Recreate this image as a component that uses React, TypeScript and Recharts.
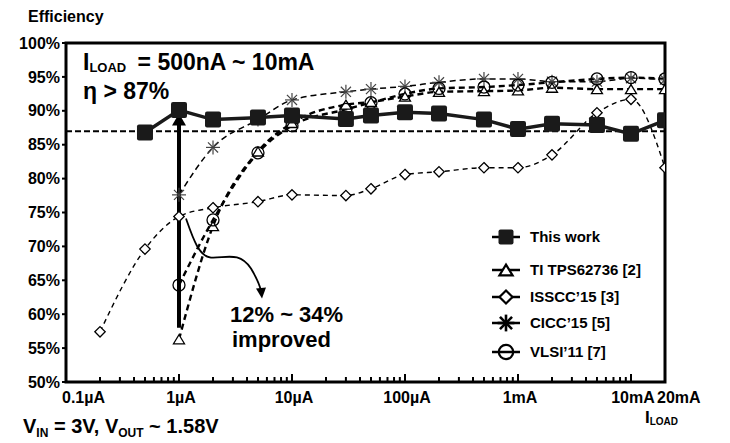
import { LineChart, Line, XAxis, YAxis, ReferenceLine, ReferenceDot, ReferenceArea } from 'recharts';

const FONT = '"Liberation Sans", Arial, Helvetica, sans-serif';

// load current (A) and efficiency (%)
const thisWorkCurrent = [0.5e-6, 1e-6, 2e-6, 5e-6, 1e-5, 3e-5, 5e-5, 1e-4, 2e-4, 5e-4, 1e-3, 2e-3, 5e-3, 1e-2, 2e-2];
const thisWorkEff = [86.8, 90.1, 88.7, 89.0, 89.3, 88.8, 89.3, 89.8, 89.6, 88.7, 87.3, 88.1, 87.9, 86.6, 88.6];

const refCurrent = [1e-6, 2e-6, 5e-6, 1e-5, 3e-5, 5e-5, 1e-4, 2e-4, 5e-4, 1e-3, 2e-3, 5e-3, 1e-2, 2e-2];
const tiEff = [56.3, 73.0, 84.0, 88.2, 90.9, 91.3, 92.1, 92.8, 92.9, 93.0, 93.4, 93.2, 93.2, 93.2];
const vlsiEff = [64.3, 73.9, 83.8, 87.8, 90.2, 91.2, 92.5, 93.3, 93.5, 93.8, 94.2, 94.7, 94.9, 94.7];
const ciccEff = [77.6, 84.6, 88.7, 91.6, 92.8, 93.2, 93.6, 94.2, 94.7, 94.7, 94.3, 94.3, 94.8, 94.6];

const isscCurrent = [2e-7, 5e-7, 1e-6, 2e-6, 5e-6, 1e-5, 3e-5, 5e-5, 1e-4, 2e-4, 5e-4, 1e-3, 2e-3, 5e-3, 1e-2, 2e-2];
const isscEff = [57.4, 69.6, 74.4, 75.7, 76.6, 77.6, 77.5, 78.5, 80.6, 81.0, 81.6, 81.6, 83.5, 89.7, 91.7, 81.6];

const majorTicks = [1e-7, 1e-6, 1e-5, 1e-4, 1e-3, 1e-2, 2e-2];
const majorLabels = ['0.1µA', '1µA', '10µA', '100µA', '1mA', '10mA', '20mA'];
const yTicks = [50, 55, 60, 65, 70, 75, 80, 85, 90, 95, 100];

const minorTicks: number[] = [];
for (let d = -7; d <= -3; d++) {
  for (let m = 2; m <= 9; m++) minorTicks.push(m * Math.pow(10, d));
}
const allTicks = [...majorTicks, ...minorTicks];

const toPoints = (xs: number[], ys: number[]) => xs.map((x, i) => ({ x, y: ys[i] }));

const legendItems = [
  { name: 'This work', marker: 'square' },
  { name: 'TI TPS62736 [2]', marker: 'triangle' },
  { name: 'ISSCC’15 [3]', marker: 'diamond' },
  { name: 'CICC’15 [5]', marker: 'star' },
  { name: 'VLSI’11 [7]', marker: 'circle' },
];
const legendRows = [237, 270, 297, 323, 352];

function Marker({ kind, cx, cy, big }: { kind: string; cx: number; cy: number; big?: boolean }) {
  const k = big ? 1.2 : 1;
  const sw = big ? 2.2 : 1.3;
  if (kind === 'square') {
    const s = big ? 15 : 16;
    return <rect x={cx - s / 2} y={cy - s / 2} width={s} height={s} rx={2} fill="#1a1a1a" />;
  }
  if (kind === 'triangle') {
    const w = 5.5 * k;
    const h = 9 * k;
    return <path d={`M${cx},${cy - h / 2} L${cx + w},${cy + h / 2} L${cx - w},${cy + h / 2} Z`} fill="#fff" stroke="#000" strokeWidth={sw} />;
  }
  if (kind === 'diamond') {
    const r = big ? 6.5 : 5.2;
    return <path d={`M${cx},${cy - r} L${cx + r},${cy} L${cx},${cy + r} L${cx - r},${cy} Z`} fill="#fff" stroke="#000" strokeWidth={sw} />;
  }
  if (kind === 'star') {
    const r = 7 * k;
    const d = r * 0.72;
    return (
      <g stroke={big ? '#000' : '#444'} strokeWidth={big ? 2.6 : 1.2}>
        <line x1={cx} y1={cy - r} x2={cx} y2={cy + r} />
        <line x1={cx - r} y1={cy} x2={cx + r} y2={cy} />
        <line x1={cx - d} y1={cy - d} x2={cx + d} y2={cy + d} />
        <line x1={cx - d} y1={cy + d} x2={cx + d} y2={cy - d} />
      </g>
    );
  }
  return <circle cx={cx} cy={cy} r={6 * k} fill="none" stroke="#000" strokeWidth={sw} />;
}

const dotOf = (kind: string) => (p: any) => <Marker key={`${kind}-${p.index}`} kind={kind} cx={p.cx} cy={p.cy} />;

function XTick(props: any) {
  const { x, y, payload } = props;
  const idx = majorTicks.findIndex((t) => Math.abs(t - payload.value) / t < 1e-6);
  const major = idx >= 0;
  const label = major ? majorLabels[idx] : null;
  let anchor = 'middle';
  let lx = x + 2;
  if (idx === 0) { anchor = 'start'; lx = x - 4; }
  if (idx === majorTicks.length - 1) { anchor = 'start'; lx = x - 8; }
  return (
    <g>
      <line x1={x} x2={x} y1={y} y2={y - (major ? 8 : 5)} stroke="#000" strokeWidth={2} />
      {label && (
        <text x={lx} y={y + 21} textAnchor={anchor} fontFamily={FONT} fontWeight="bold" fontSize={16} fill="#000">
          {label}
        </text>
      )}
    </g>
  );
}

const arrowHead = (p: any) => (
  <path d={`M${p.cx},${p.cy} L${p.cx + 7},${p.cy + 12} L${p.cx - 7},${p.cy + 12} Z`} fill="#000" />
);

const curvedArrow = (p: any) => {
  const { cx, cy } = p;
  return (
    <g>
      <path
        d={`M${cx + 7},${cy + 2} C${cx + 14},${cy + 22} ${cx + 20},${cy + 40} ${cx + 32},${cy + 41} C${cx + 46},${cy + 42} ${cx + 60},${cy + 34} ${cx + 72},${cy + 52} C${cx + 78},${cy + 62} ${cx + 81},${cy + 70} ${cx + 82},${cy + 74}`}
        fill="none"
        stroke="#000"
        strokeWidth={1.8}
      />
      <path d={`M${cx + 83},${cy + 82} L${cx + 77},${cy + 72} L${cx + 87},${cy + 71} Z`} fill="#000" />
    </g>
  );
};

export default function App() {
  return (
    <div style={{ position: 'absolute', left: 0, top: 0, width: 730, height: 443, background: '#fff' }}>
      <LineChart width={730} height={443} margin={{ top: 43, right: 65, bottom: 0, left: 0 }}>
        <XAxis
          dataKey="x"
          type="number"
          scale="log"
          domain={[1e-7, 2e-2]}
          allowDataOverflow
          ticks={allTicks}
          interval={0}
          height={61}
          axisLine={false}
          tickLine={false}
          tickSize={0}
          tickMargin={0}
          tick={<XTick />}
        />
        <YAxis
          type="number"
          domain={[50, 100]}
          ticks={yTicks}
          interval={0}
          width={66}
          axisLine={false}
          tickLine={{ stroke: '#000', strokeWidth: 2 }}
          tickSize={4}
          tickMargin={2}
          tickFormatter={(v: number) => `${v}%`}
          tick={{ fill: '#000', fontSize: 16, fontWeight: 'bold', fontFamily: FONT }}
        />
        <ReferenceLine y={87} stroke="#000" strokeWidth={2} strokeDasharray="6 3" />
        <ReferenceLine
          segment={[{ x: 1e-6, y: 58 }, { x: 1e-6, y: 89 }]}
          stroke="#000"
          strokeWidth={4}
        />
        <ReferenceDot x={1e-6} y={89.6} r={0} shape={arrowHead} />
        <ReferenceDot x={1e-6} y={74.4} r={0} shape={curvedArrow} />
        <Line data={toPoints(isscCurrent, isscEff)} dataKey="y" type="monotone" stroke="#000" strokeWidth={1.4} strokeDasharray="5 4" dot={dotOf('diamond')} isAnimationActive={false} />
        <Line data={toPoints(refCurrent, ciccEff)} dataKey="y" type="monotone" stroke="#000" strokeWidth={1.5} strokeDasharray="6 4" dot={dotOf('star')} isAnimationActive={false} />
        <Line data={toPoints(refCurrent, tiEff)} dataKey="y" type="monotone" stroke="#000" strokeWidth={2.4} strokeDasharray="6 4" dot={dotOf('triangle')} isAnimationActive={false} />
        <Line data={toPoints(refCurrent, vlsiEff)} dataKey="y" type="monotone" stroke="#000" strokeWidth={2.4} strokeDasharray="6 4" dot={dotOf('circle')} isAnimationActive={false} />
        <Line data={toPoints(thisWorkCurrent, thisWorkEff)} dataKey="y" type="linear" stroke="#1a1a1a" strokeWidth={3.5} dot={dotOf('square')} isAnimationActive={false} />
        <ReferenceArea x1={1e-7} x2={2e-2} y1={50} y2={100} fill="none" fillOpacity={0} stroke="#000" strokeWidth={3} />
      </LineChart>
      <svg width={730} height={443} style={{ position: 'absolute', left: 0, top: 0, pointerEvents: 'none' }} fontFamily={FONT} fontWeight="bold">
        <text x={28} y={22} fontSize={16}>Efficiency</text>
        <text x={83} y={70} fontSize={23}>
          I<tspan fontSize={13} dy={2}>LOAD</tspan>
          <tspan dy={-2} dx={5}> = 500nA ~ 10mA</tspan>
        </text>
        <text x={83} y={99} fontSize={23}>η &gt; 87%</text>
        <text x={230} y={322} fontSize={22}>12% ~ 34%</text>
        <text x={232} y={347} fontSize={22}>improved</text>
        <text x={23} y={433} fontSize={20}>
          V<tspan fontSize={12} dy={4}>IN</tspan>
          <tspan dy={-4}> = 3V, V</tspan>
          <tspan fontSize={12} dy={4}>OUT</tspan>
          <tspan dy={-4}> ~ 1.58V</tspan>
        </text>
        <text x={645} y={423} fontSize={17}>
          I<tspan fontSize={10} dy={2}>LOAD</tspan>
        </text>
        {legendItems.map((item, i) => {
          const cy = legendRows[i];
          return (
            <g key={item.name}>
              <line x1={492} x2={520} y1={cy} y2={cy} stroke="#000" strokeWidth={2.5} />
              <Marker kind={item.marker} cx={506} cy={cy} big />
              <text x={530} y={cy + 5} fontSize={15}>{item.name}</text>
            </g>
          );
        })}
      </svg>
    </div>
  );
}
